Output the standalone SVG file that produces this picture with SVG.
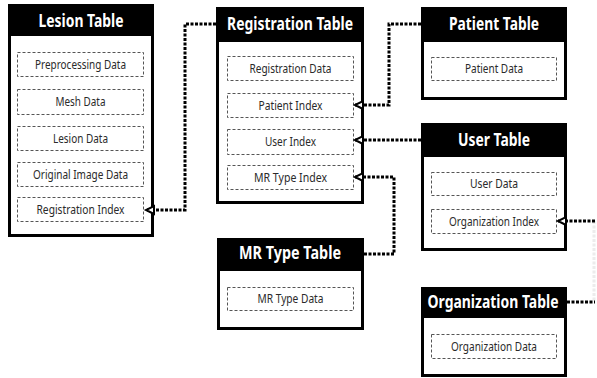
<svg xmlns="http://www.w3.org/2000/svg" width="597" height="378" viewBox="0 0 597 378">
<style>
.frame{fill:#fff;stroke:#000;stroke-width:3}
.head{fill:#000}
.title{fill:#fff;font-family:"Noto Sans","Liberation Sans",sans-serif;font-weight:bold;font-size:17px;text-anchor:middle}
.field{fill:#fff;stroke:#555;stroke-width:1;stroke-dasharray:3 2}
.ftext{fill:#2a2a2a;font-family:"Noto Sans","Liberation Sans",sans-serif;font-size:12px;text-anchor:middle}
.conn{fill:none;stroke:#000;stroke-width:3;stroke-dasharray:3 1.5}
.faint{fill:none;stroke:#ececec;stroke-width:3;stroke-dasharray:3 1.5}
</style>
<defs>
<marker id="arr" markerUnits="userSpaceOnUse" markerWidth="12" markerHeight="12" refX="9" refY="5" orient="auto" viewBox="0 0 12 10">
<path d="M1,1 L9,5 L1,9 Z" fill="#fff" stroke="#000" stroke-width="2" stroke-dasharray="none"/>
</marker>
</defs>

<g id="lesion-table">
<rect class="frame" x="9.5" y="5.5" width="143" height="230"/>
<rect class="head" x="8" y="4" width="146" height="32"/>
<text class="title" x="81" y="27" textLength="85" lengthAdjust="spacingAndGlyphs">Lesion Table</text>
<rect class="field" x="17.5" y="52.5" width="126" height="24"/>
<text class="ftext" x="80.5" y="68.5" textLength="91" lengthAdjust="spacingAndGlyphs">Preprocessing Data</text>
<rect class="field" x="17.5" y="89.5" width="126" height="25"/>
<text class="ftext" x="80.5" y="106" textLength="50" lengthAdjust="spacingAndGlyphs">Mesh Data</text>
<rect class="field" x="17.5" y="126.5" width="126" height="24"/>
<text class="ftext" x="80.5" y="142.5" textLength="55" lengthAdjust="spacingAndGlyphs">Lesion Data</text>
<rect class="field" x="17.5" y="162.5" width="126" height="24"/>
<text class="ftext" x="80.5" y="178.5" textLength="95" lengthAdjust="spacingAndGlyphs">Original Image Data</text>
<rect class="field" x="17.5" y="197.5" width="126" height="24"/>
<text class="ftext" x="80.5" y="213.5" textLength="88" lengthAdjust="spacingAndGlyphs">Registration Index</text>
</g>

<g id="registration-table">
<rect class="frame" x="217.5" y="8.5" width="145" height="194"/>
<rect class="head" x="216" y="7" width="148" height="35"/>
<text class="title" x="290" y="30" textLength="126" lengthAdjust="spacingAndGlyphs">Registration Table</text>
<rect class="field" x="227.5" y="56.5" width="126" height="24"/>
<text class="ftext" x="290.5" y="72.5" textLength="82" lengthAdjust="spacingAndGlyphs">Registration Data</text>
<rect class="field" x="227.5" y="93.5" width="126" height="24"/>
<text class="ftext" x="290.5" y="109.5" textLength="64" lengthAdjust="spacingAndGlyphs">Patient Index</text>
<rect class="field" x="227.5" y="129.5" width="126" height="25"/>
<text class="ftext" x="290.5" y="146" textLength="51" lengthAdjust="spacingAndGlyphs">User Index</text>
<rect class="field" x="227.5" y="165.5" width="126" height="24"/>
<text class="ftext" x="290.5" y="181.5" textLength="73" lengthAdjust="spacingAndGlyphs">MR Type Index</text>
</g>

<g id="patient-table">
<rect class="frame" x="422.5" y="8.5" width="143" height="90"/>
<rect class="head" x="421" y="7" width="146" height="35"/>
<text class="title" x="494" y="30" textLength="90" lengthAdjust="spacingAndGlyphs">Patient Table</text>
<rect class="field" x="431.5" y="57.5" width="125" height="23"/>
<text class="ftext" x="494" y="73" textLength="58" lengthAdjust="spacingAndGlyphs">Patient Data</text>
</g>

<g id="user-table">
<rect class="frame" x="422.5" y="124.5" width="143" height="125"/>
<rect class="head" x="421" y="123" width="146" height="34"/>
<text class="title" x="494" y="146" textLength="72" lengthAdjust="spacingAndGlyphs">User Table</text>
<rect class="field" x="431.5" y="172.5" width="125" height="23"/>
<text class="ftext" x="494" y="188" textLength="48" lengthAdjust="spacingAndGlyphs">User Data</text>
<rect class="field" x="431.5" y="209.5" width="125" height="24"/>
<text class="ftext" x="494" y="225.5" textLength="90" lengthAdjust="spacingAndGlyphs">Organization Index</text>
</g>

<g id="mr-type-table">
<rect class="frame" x="218.5" y="239.5" width="144" height="89"/>
<rect class="head" x="217" y="238" width="147" height="33"/>
<text class="title" x="290" y="259" textLength="102" lengthAdjust="spacingAndGlyphs">MR Type Table</text>
<rect class="field" x="227.5" y="287.5" width="126" height="23"/>
<text class="ftext" x="290.5" y="303" textLength="66" lengthAdjust="spacingAndGlyphs">MR Type Data</text>
</g>

<g id="organization-table">
<rect class="frame" x="422.5" y="288.5" width="143" height="87"/>
<rect class="head" x="421" y="287" width="146" height="31"/>
<text class="title" x="493" y="308" textLength="131" lengthAdjust="spacingAndGlyphs">Organization Table</text>
<rect class="field" x="431.5" y="334.5" width="125" height="24"/>
<text class="ftext" x="494" y="350.5" textLength="86" lengthAdjust="spacingAndGlyphs">Organization Data</text>
</g>

<g id="connectors">
<path class="conn" d="M216 24 H185 V210 H146" marker-end="url(#arr)"/>
<path class="conn" d="M421 24 H389 V105 H355" marker-end="url(#arr)"/>
<path class="conn" d="M421 140 H355" marker-end="url(#arr)"/>
<path class="conn" d="M364 254 H394 V177 H355" marker-end="url(#arr)"/>
<path class="faint" d="M594 221 V302"/>
<path class="conn" d="M567 302 H595"/>
<path class="conn" d="M595 221 H558" marker-end="url(#arr)"/>
</g>
</svg>
